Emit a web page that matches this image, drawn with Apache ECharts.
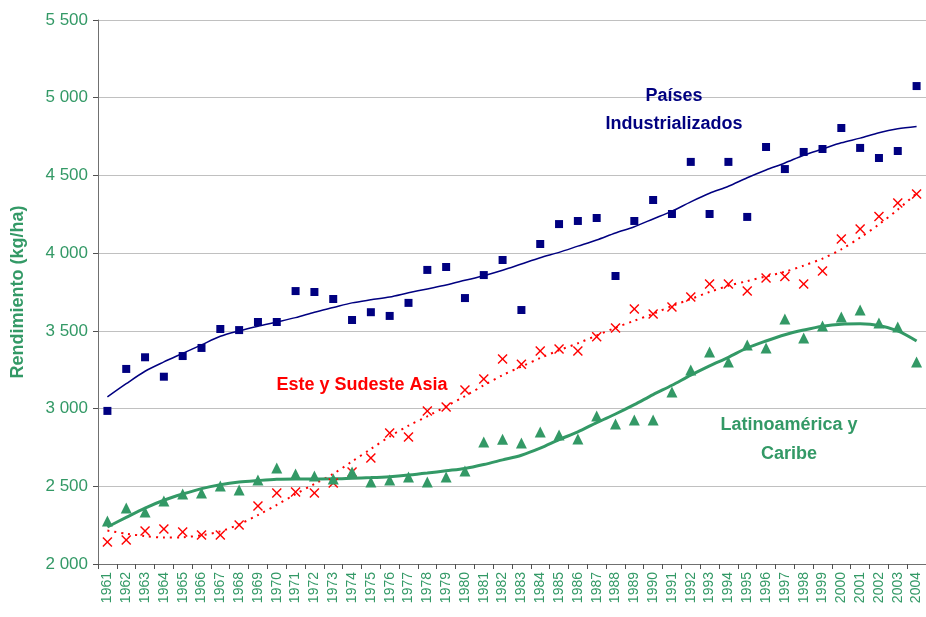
<!DOCTYPE html>
<html>
<head>
<meta charset="utf-8">
<script src="https://cdn.jsdelivr.net/npm/echarts@6/dist/echarts.min.js"></script>
<style>
html,body{margin:0;padding:0;background:#fff;}
#chart{width:926px;height:617px;}
</style>
</head>
<body>
<div id="chart"></div>
<script>
// Years (categories)
var years = [];
for (var yr = 1961; yr <= 2004; yr++) years.push(String(yr));

// Países Industrializados (observed)
var industrial = [2985,3255,3330,3205,3338,3390,3512,3505,3557,3557,3756,3750,3705,3570,3620,3596,3680,3892,3911,3711,3859,3956,3634,4059,4187,4207,4226,3853,4207,4342,4252,4587,4252,4587,4233,4683,4541,4651,4670,4805,4677,4612,4657,5075];
// Países Industrializados (trend)
var industrialTrend = [3075,3160,3240,3300,3355,3410,3465,3500,3530,3557,3585,3620,3650,3680,3700,3718,3745,3770,3795,3825,3855,3890,3930,3970,4005,4045,4085,4130,4170,4220,4270,4330,4385,4430,4485,4535,4580,4630,4670,4710,4740,4775,4800,4815];

// Este y Sudeste Asia (observed)
var asia = [2142,2154,2212,2225,2206,2187,2187,2251,2373,2457,2463,2457,2521,2592,2682,2843,2817,2984,3010,3120,3190,3319,3285,3370,3383,3370,3462,3518,3640,3608,3653,3718,3801,3801,3756,3840,3850,3801,3885,4091,4155,4235,4323,4381];
// Este y Sudeste Asia (trend)
var asiaTrend = [2215,2195,2180,2170,2172,2185,2210,2255,2315,2380,2450,2515,2580,2660,2740,2820,2890,2950,3015,3080,3150,3215,3270,3325,3375,3420,3470,3520,3565,3610,3660,3705,3750,3790,3820,3850,3880,3920,3965,4025,4100,4185,4280,4385];

// Latinoamérica y Caribe (observed)
var latin = [2277,2360,2335,2405,2450,2457,2502,2476,2540,2618,2579,2566,2547,2592,2527,2540,2560,2527,2560,2598,2785,2802,2778,2849,2830,2804,2952,2901,2927,2927,3107,3248,3364,3300,3409,3390,3576,3454,3531,3589,3634,3550,3525,3300];
// Latinoamérica y Caribe (trend)
var latinTrend = [2238,2300,2360,2410,2450,2485,2510,2527,2537,2545,2547,2547,2548,2552,2556,2562,2572,2585,2600,2615,2640,2670,2700,2745,2800,2850,2910,2965,3025,3090,3150,3215,3275,3330,3390,3435,3475,3505,3530,3543,3545,3535,3500,3435];

var GREEN = '#339966', NAVY = '#000080', RED = '#ff0000';
var FONT = '"Liberation Sans", Arial, sans-serif';
var crossPath = 'path://M0,1L1,0L5,4L9,0L10,1L6,5L10,9L9,10L5,6L1,10L0,9L4,5Z';

var chart = echarts.init(document.getElementById('chart'));
chart.setOption({
  animation: false,
  backgroundColor: '#fff',
  grid: {left: 98, right: 0, top: 20, bottom: 53},
  xAxis: {
    type: 'category',
    data: years,
    boundaryGap: true,
    axisLine: {lineStyle: {color: '#707070', width: 1}},
    axisTick: {show: true, length: 5, interval: 0, lineStyle: {color: '#505050'}},
    axisLabel: {interval: 0, rotate: 90, color: GREEN, fontFamily: FONT, fontSize: 14, margin: 8},
    splitLine: {show: false}
  },
  yAxis: {
    type: 'value',
    min: 2000, max: 5500, interval: 500,
    name: 'Rendimiento (kg/ha)',
    nameLocation: 'middle',
    nameGap: 71,
    nameTextStyle: {color: GREEN, fontFamily: FONT, fontSize: 18, fontWeight: 'bold'},
    axisLine: {show: true, lineStyle: {color: '#707070', width: 1}},
    axisTick: {show: true, length: 5, lineStyle: {color: '#505050'}},
    axisLabel: {color: GREEN, fontFamily: FONT, fontSize: 17, margin: 10,
      formatter: function (v) { return String(v).replace(/\B(?=(\d{3})+(?!\d))/g, ' '); }},
    splitLine: {lineStyle: {color: '#c0c0c0', width: 1}}
  },
  series: [
    {name: 'Industrial trend', type: 'line', data: industrialTrend, symbol: 'none', smooth: 0.3,
     lineStyle: {color: NAVY, width: 1.5}, z: 2},
    {name: 'Asia trend', type: 'line', data: asiaTrend, symbol: 'none', smooth: 0.3,
     lineStyle: {color: RED, width: 2, type: [2, 5]}, z: 2},
    {name: 'Latin trend', type: 'line', data: latinTrend, symbol: 'none', smooth: 0.3,
     lineStyle: {color: GREEN, width: 3}, z: 2},
    {name: 'Países Industrializados', type: 'scatter', data: industrial, symbol: 'rect', symbolSize: 8,
     itemStyle: {color: NAVY, opacity: 1}, z: 3},
    {name: 'Este y Sudeste Asia', type: 'scatter', data: asia, symbol: crossPath, symbolSize: 10,
     itemStyle: {color: RED, opacity: 1}, z: 3},
    {name: 'Latinoamérica y Caribe', type: 'scatter', data: latin, symbol: 'triangle', symbolSize: 11,
     itemStyle: {color: GREEN, opacity: 1}, z: 3}
  ],
  graphic: [
    {type: 'text', x: 674, y: 110, z: 10,
     style: {text: 'Países\nIndustrializados', fill: NAVY, font: 'bold 18px ' + FONT,
             textAlign: 'center', textVerticalAlign: 'middle', lineHeight: 28}},
    {type: 'text', x: 362, y: 385, z: 10,
     style: {text: 'Este y Sudeste Asia', fill: RED, font: 'bold 18px ' + FONT,
             textAlign: 'center', textVerticalAlign: 'middle'}},
    {type: 'text', x: 789, y: 440, z: 10,
     style: {text: 'Latinoamérica y\nCaribe', fill: GREEN, font: 'bold 18px ' + FONT,
             textAlign: 'center', textVerticalAlign: 'middle', lineHeight: 29}}
  ]
});
</script>
</body>
</html>
